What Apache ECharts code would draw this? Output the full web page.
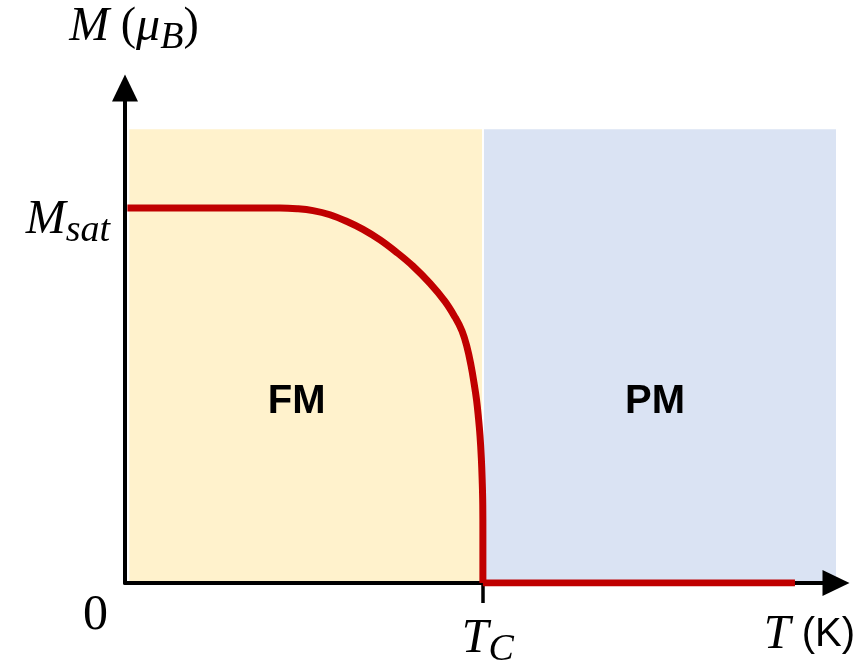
<!DOCTYPE html>
<html>
<head>
<meta charset="utf-8">
<script src="https://cdn.jsdelivr.net/npm/echarts@6/dist/echarts.min.js"></script>
<style>
html, body { margin: 0; padding: 0; background: #fff; }
#main { width: 863px; height: 660px; }
</style>
</head>
<body>
<div id="main"></div>
<script>
// T in K (Tc taken as 300), M in units of Msat
var tMax = 596
var mMax = 1.32
var tc = 300
var mSat = 1

// magnetisation curve below Tc
var curveT = [2, 129.9, 144.2, 157.6, 171.8, 186.1, 199.5, 213.8, 228.0, 241.4, 255.7, 268.2, 276.6, 282.5,
    286.7, 290.0, 292.6, 294.7, 296.3, 297.6, 298.7, 299.4, 299.9, 300, 300]
var curveM = [1, 1, 0.998, 0.993, 0.982, 0.964, 0.943, 0.915, 0.881, 0.845, 0.799, 0.751, 0.709, 0.672,
    0.629, 0.581, 0.533, 0.488, 0.44, 0.392, 0.333, 0.275, 0.208, 0.128, 0]
// M = 0 above Tc
var tailT = [300, 561.6]
var tailM = [0, 0]

// shaded phase regions
var regionNames = ['FM', 'PM']
var regionStart = [3.6, 300.9]
var regionEnd = [299.3, 596]
var regionTop = 1.21

var mathFont = 'Liberation Serif'
var red = '#C00000'

function pairs(xs, ys) {
    return xs.map(function (x, i) { return [x, ys[i]] })
}

var rich = {
    i: { fontFamily: mathFont, fontStyle: 'italic', fontSize: 48, lineHeight: 60, color: '#000' },
    p: { fontFamily: mathFont, fontSize: 46, lineHeight: 60, color: '#000' },
    s: { fontFamily: mathFont, fontStyle: 'italic', fontSize: 38, lineHeight: 40, verticalAlign: 'bottom', color: '#000' },
    u: { fontFamily: 'Liberation Sans', fontSize: 40, lineHeight: 60, color: '#000' }
}

var regionColors = ['#FFF2CC', '#DAE3F3']
var regionOffsets = [[-9, 46], [-5, 46]]

var areas = regionNames.map(function (name, i) {
    return [
        {
            name: name,
            xAxis: regionStart[i],
            yAxis: 0,
            itemStyle: { color: regionColors[i] },
            label: {
                show: true,
                position: 'inside',
                offset: regionOffsets[i],
                formatter: '{b}',
                fontFamily: 'Liberation Sans',
                fontWeight: 'bold',
                fontSize: 40,
                color: '#000'
            }
        },
        { xAxis: regionEnd[i], yAxis: regionTop }
    ]
})

var myChart = echarts.init(document.getElementById('main'))
var option = {
    animation: false,
    grid: { left: 125, right: 27, top: 88, bottom: 77, outerBoundsMode: 'none' },
    xAxis: {
        type: 'value',
        min: 0,
        max: tMax,
        z: 2,
        axisLine: {
            show: true,
            lineStyle: { color: '#000', width: 4 },
            symbol: ['none', 'triangle'],
            symbolSize: [26, 27]
        },
        axisTick: { show: true, customValues: [tc], length: 20, lineStyle: { color: '#000', width: 3.5 } },
        axisLabel: {
            show: true,
            customValues: [tc],
            margin: 26,
            padding: [0, 0, 0, 10],
            formatter: function () { return '{i|T}{s|C}' },
            rich: rich
        },
        splitLine: { show: false },
        name: '{i|T}{u| (K)}',
        nameLocation: 'end',
        nameGap: 19,
        nameTextStyle: { align: 'right', verticalAlign: 'top', padding: [22, 0, 0, 0], rich: rich }
    },
    yAxis: {
        type: 'value',
        min: 0,
        max: mMax,
        z: 2,
        axisLine: {
            show: true,
            lineStyle: { color: '#000', width: 4 },
            symbol: ['none', 'triangle'],
            symbolSize: [26, 27]
        },
        axisTick: { show: false },
        axisLabel: {
            show: true,
            customValues: [mSat],
            margin: 15,
            padding: [24, 0, 0, 0],
            formatter: function () { return '{i|M}{s|sat}' },
            rich: rich
        },
        splitLine: { show: false },
        name: '{i|M}{p| (}{i|μ}{s|B}{p|)}',
        nameLocation: 'end',
        nameGap: 31,
        nameTextStyle: { padding: [0, 0, 0, 18], rich: rich }
    },
    graphic: [
        { type: 'text', left: 83, top: 591, style: { text: '0', font: '50px "Liberation Serif"', fill: '#000' } }
    ],
    series: [
        {
            type: 'line',
            data: pairs(curveT, curveM),
            smooth: 0.4,
            symbol: 'none',
            z: 3,
            lineStyle: { color: red, width: 7 },
            markArea: { silent: true, z: 1, data: areas }
        },
        {
            type: 'line',
            data: pairs(tailT, tailM),
            symbol: 'none',
            z: 3,
            lineStyle: { color: red, width: 7 }
        }
    ]
}
myChart.setOption(option)
</script>
</body>
</html>
